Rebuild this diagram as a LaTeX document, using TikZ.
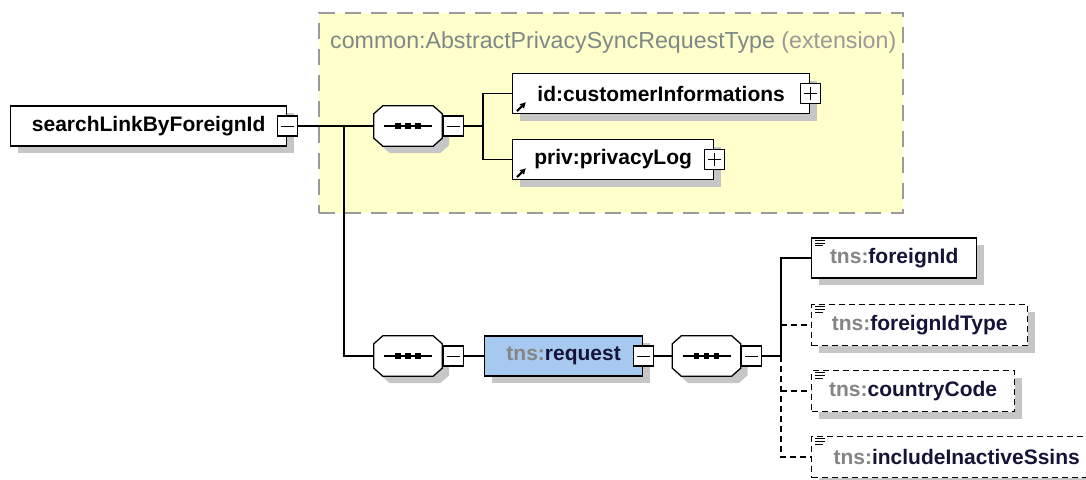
\documentclass[tikz,border=0pt]{standalone}
\usepackage{fontspec}
\setmainfont{Liberation Sans}
\usetikzlibrary{shadows,arrows.meta}

\definecolor{extfill}{HTML}{FFFFCC}
\definecolor{extline}{HTML}{9A9A9A}
\definecolor{reqfill}{HTML}{A8C9EF}
\definecolor{nsgray}{HTML}{858585}
\definecolor{namecol}{HTML}{141438}
\definecolor{titlecol}{HTML}{7F8888}
\definecolor{extcol}{HTML}{999999}
\definecolor{shadecol}{HTML}{C6C6C6}

\newcommand{\tnsname}[1]{{\color{nsgray}tns:}{\color{namecol}#1}}
% contorno ottagonale di una sequenza: nodo, dx, dy
\newcommand{\ottpath}[3]{%
  ([xshift=#2+9pt,yshift=#3]#1.north west) -- ([xshift=#2-9pt,yshift=#3]#1.north east)
  -- ([xshift=#2,yshift=#3-8pt]#1.north east) -- ([xshift=#2,yshift=#3+8pt]#1.south east)
  -- ([xshift=#2-9pt,yshift=#3]#1.south east) -- ([xshift=#2+9pt,yshift=#3]#1.south west)
  -- ([xshift=#2,yshift=#3+8pt]#1.south west) -- ([xshift=#2,yshift=#3-8pt]#1.north west) -- cycle}

\tikzset{
  ombra/.style={drop shadow={shadow xshift=7pt,shadow yshift=-7pt,fill=shadecol,opacity=1}},
  elem/.style={draw,line width=1.3pt,fill=white,ombra,inner sep=0pt,
    minimum height=40pt,anchor=west,font=\fontsize{21}{24}\selectfont\bfseries},
  opzionale/.style={elem,dash pattern=on 6pt off 4pt},
  sequenza/.style={inner sep=0pt,minimum width=68pt,minimum height=40pt},
  meno/.style={draw,line width=1.2pt,fill=white,inner sep=0pt,minimum size=20pt,
    path picture={
      \draw[line width=1pt] ([xshift=-6.5pt]path picture bounding box.center)
        -- ([xshift=6.5pt]path picture bounding box.center);
    }},
  piu/.style={meno,
    path picture={
      \draw[line width=1pt] ([xshift=-6.5pt]path picture bounding box.center)
        -- ([xshift=6.5pt]path picture bounding box.center);
      \draw[line width=1pt] ([yshift=-6.5pt]path picture bounding box.center)
        -- ([yshift=6.5pt]path picture bounding box.center);
    }},
  conn/.style={line width=1.3pt},
}

\begin{document}
\begin{tikzpicture}[x=1pt,y=-1pt]
    \useasboundingbox (0,0) rectangle (1086,479);

    % estensione del tipo astratto
    \node[draw=extline,fill=extfill,line width=1.5pt,dash pattern=on 16pt off 10pt,
        anchor=north west,minimum width=584pt,minimum height=200pt,inner sep=0pt] (ext) at (318,12) {};
    \node[anchor=west,inner sep=0pt,font=\fontsize{23.2}{26}\selectfont] (titolo) at (330,43)
        {\textcolor{titlecol}{common:AbstractPrivacySyncRequestType} \textcolor{extcol}{(extension)}};

    % elemento radice
    \node[elem,minimum width=276pt] (search) at (10,126) {searchLinkByForeignId\hspace{10pt}};
    \node[meno] (searchm) at (search.east) {};

    % sequenze
    \foreach \n/\c in {seq1/{(408,126)},seq2/{(408,356)},seq3/{(706.5,356)}} {
        \node[sequenza] (\n) at \c {};
        \fill[shadecol] \ottpath{\n}{7pt}{-7pt};
        \draw[line width=1.3pt,fill=white] \ottpath{\n}{0pt}{0pt};
        \draw[line width=1.2pt] ([xshift=-24pt]\n.center) -- ([xshift=24pt]\n.center);
        \foreach \dx in {-10,0,10}
            \fill[black] ([xshift=\dx pt]\n.center) +(-2.6,-2.6) rectangle +(2.6,2.6);
        \node[meno] (\n m) at ([xshift=11pt]\n.east) {};
    }

    % figli della prima sequenza
    \node[elem,minimum width=297pt] (cust) at (512,93.5) {id:customerInformations};
    \node[piu] (custp) at (cust.east) {};
    \node[elem,minimum width=201pt] (plog) at (512,159.5) {priv:privacyLog\hspace{4pt}};
    \node[piu] (plogp) at (plog.east) {};

    % request
    \node[elem,fill=reqfill,minimum width=158pt] (req) at (484,356) {\tnsname{request}\hspace{8pt}};
    \node[meno] (reqm) at (req.east) {};

    % figli di request
    \node[elem,minimum width=165pt] (fid) at (811,258) {\tnsname{foreignId}};
    \node[opzionale,minimum width=216pt,minimum height=41pt] (ftype) at (811,325) {\tnsname{foreignIdType}};
    \node[opzionale,minimum width=203pt,minimum height=41pt] (ccode) at (811,391) {\tnsname{countryCode}};
    \node[opzionale,minimum width=290pt,minimum height=41pt] (incl) at (811,457) {\tnsname{includeInactiveSsins}};

    % icone
    \foreach \n in {cust,plog}
        \draw[line width=2pt,-{Latex[length=6pt,width=7pt]}] ([xshift=5pt,yshift=3pt]\n.south west) -- ++(9,-9);
    \foreach \n in {fid,ftype,ccode,incl}
        \foreach \k/\w in {0/10,1/10,2/8}
            \draw[line width=1pt] ([xshift=4pt,yshift=-\k*2.8pt-3pt]\n.north west) -- ++(\w,0);

    % collegamenti
    \coordinate (j1) at (344,126);
    \coordinate (j2) at (483,126);
    \coordinate (j3) at (781,356);
    \draw[conn] (searchm.east) -- (seq1.west);
    \draw[conn] (j1) |- (seq2.west);
    \draw[conn] (seq1m.east) -- (j2);
    \draw[conn] (cust.west) -| (j2) |- (plog.west);
    \draw[conn] (seq2m.east) -- (req.west);
    \draw[conn] (reqm.east) -- (seq3.west);
    \draw[conn] (seq3m.east) -- (j3);
    \draw[conn] (fid.west) -| (j3);
    \draw[conn,dash pattern=on 6pt off 4pt] (j3) |- (incl.west);
    \draw[conn,dash pattern=on 6pt off 4pt] (j3 |- ftype.west) -- (ftype.west);
    \draw[conn,dash pattern=on 6pt off 4pt] (j3 |- ccode.west) -- (ccode.west);
\end{tikzpicture}
\end{document}
